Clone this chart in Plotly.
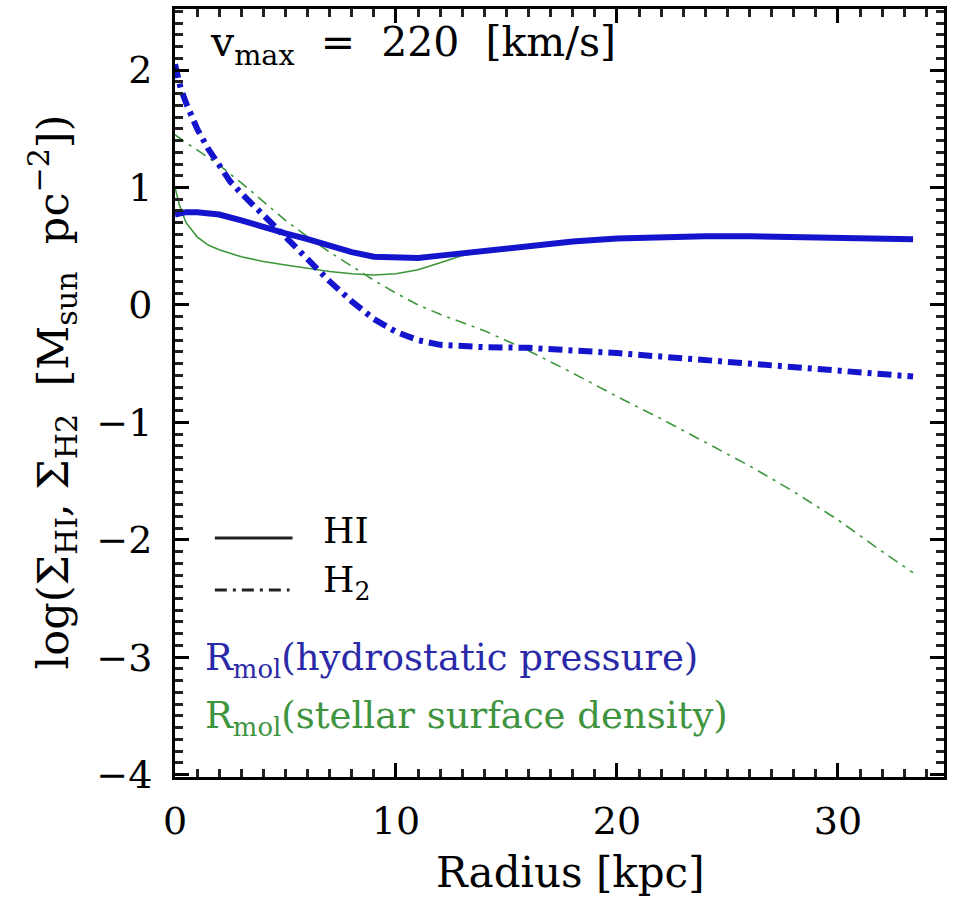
import plotly.graph_objects as go

# ---------------- data ----------------
r_hi_hydro = [0, 0.5, 1, 2, 3, 4, 5, 6, 7, 8, 9, 10, 11, 12, 13, 14, 16, 18, 20, 22, 24, 26, 28, 30, 32, 33.4]
hi_hydro = [0.77, 0.79, 0.79, 0.77, 0.72, 0.66, 0.61, 0.56, 0.50, 0.45, 0.41, 0.40, 0.40, 0.42, 0.44, 0.47,
            0.51, 0.54, 0.565, 0.58, 0.585, 0.585, 0.58, 0.575, 0.565, 0.56]

r_h2_hydro = [0, 0.25, 0.5, 1, 1.5, 2, 2.5, 3, 4, 5, 6, 7, 8, 9, 10, 11, 12, 13, 14, 16, 18, 20, 22, 24,
              26, 28, 30, 32, 33.4]
h2_hydro = [2.05, 1.85, 1.72, 1.50, 1.33, 1.18, 1.05, 0.95, 0.77, 0.58, 0.39, 0.20, 0.03, -0.12, -0.23,
            -0.30, -0.34, -0.355, -0.36, -0.365, -0.385, -0.41, -0.44, -0.47, -0.50, -0.53, -0.56, -0.59, -0.61]

r_hi_star = [0, 0.2, 0.5, 1, 1.5, 2, 3, 4, 5, 6, 7, 8, 9, 10, 11, 12, 13, 14, 16, 18, 20, 22, 24, 26, 28,
             30, 32, 33.4]
hi_star = [1.00, 0.85, 0.70, 0.58, 0.51, 0.47, 0.41, 0.37, 0.34, 0.31, 0.285, 0.265, 0.255, 0.265, 0.30,
           0.36, 0.42, 0.455, 0.50, 0.54, 0.565, 0.58, 0.585, 0.585, 0.58, 0.575, 0.565, 0.56]

r_h2_star = [0, 0.5, 1, 2, 3, 4, 5, 6, 7, 8, 9, 10, 11, 12, 13, 14, 16, 18, 20, 22, 24, 26, 28, 30, 32, 33.4]
h2_star = [1.45, 1.38, 1.32, 1.19, 1.04, 0.88, 0.72, 0.58, 0.45, 0.33, 0.21, 0.10, 0.00, -0.08, -0.15,
           -0.22, -0.39, -0.58, -0.78, -0.97, -1.17, -1.37, -1.59, -1.83, -2.10, -2.28]

x_range = [0, 34.8]
y_range = [-4.02, 2.52]
x_tick_step, x_minor_step = 10, 1
y_tick_step, y_minor_step = 1, 0.1

BLUE = "#1414cc"
GREEN = "#3c963c"
FONT = "DejaVu Serif"
NB = "\u00a0"
PLOT_W, PLOT_H = 772, 768

fig = go.Figure()
fig.add_trace(go.Scatter(x=r_h2_star, y=h2_star, mode="lines",
                         line=dict(color=GREEN, width=1.6, dash="11px,6px,3px,6px"), showlegend=False))
fig.add_trace(go.Scatter(x=r_hi_star, y=hi_star, mode="lines",
                         line=dict(color=GREEN, width=1.6), showlegend=False))
fig.add_trace(go.Scatter(x=r_h2_hydro, y=h2_hydro, mode="lines",
                         line=dict(color=BLUE, width=6, dash="14px,6px,4px,6px"), showlegend=False))
fig.add_trace(go.Scatter(x=r_hi_hydro, y=hi_hydro, mode="lines",
                         line=dict(color=BLUE, width=6), showlegend=False))

minor_x = dict(dtick=x_minor_step, tick0=0, ticks="inside", ticklen=8, tickwidth=2.5, tickcolor="#222222")
minor_y = dict(dtick=y_minor_step, tick0=0, ticks="inside", ticklen=8, tickwidth=2.5, tickcolor="#222222")

fig.update_layout(
    xaxis=dict(range=x_range, dtick=x_tick_step, tick0=0, ticklen=14, tickwidth=2.5, tickcolor="black",
               ticks="inside", mirror="allticks", showline=True, linecolor="black", linewidth=3,
               showgrid=False, zeroline=False, ticklabelstandoff=8,
               tickfont=dict(family=FONT, size=38, color="black"), minor=minor_x),
    yaxis=dict(range=y_range, dtick=y_tick_step, tick0=0, ticklen=14, tickwidth=2.5, tickcolor="black",
               ticks="inside", mirror="allticks", showline=True, linecolor="black", linewidth=3,
               showgrid=False, zeroline=False, ticklabelstandoff=12,
               tickfont=dict(family=FONT, size=38, color="black"), minor=minor_y),
)

# legend-like key (black line styles)
fig.add_shape(type="line", xref="paper", yref="paper", x0=(215 - 175) / PLOT_W, x1=(293 - 175) / PLOT_W,
              y0=(777 - 538) / PLOT_H, y1=(777 - 538) / PLOT_H, line=dict(color="#222222", width=3))
fig.add_shape(type="line", xref="paper", yref="paper", x0=(215 - 175) / PLOT_W, x1=(290 - 175) / PLOT_W,
              y0=(777 - 590) / PLOT_H, y1=(777 - 590) / PLOT_H,
              line=dict(color="#222222", width=3, dash="12px,6px,3px,6px"))

ann_font = dict(family=FONT, size=36, color="black")
annotations = [
    dict(text=f"v<sub>max</sub>{NB}{NB}={NB}{NB}220{NB}{NB}[km/s]", x=(208 - 175) / PLOT_W,
         y=(777 - 45) / PLOT_H, xanchor="left", yanchor="middle", font=dict(family=FONT, size=41, color="black")),
    dict(text="HI", x=(322 - 175) / PLOT_W, y=(777 - 530) / PLOT_H, xanchor="left", yanchor="middle",
         font=ann_font),
    dict(text="H<sub>2</sub>", x=(322 - 175) / PLOT_W, y=(777 - 582) / PLOT_H, xanchor="left",
         yanchor="middle", font=ann_font),
    dict(text="R<sub>mol</sub>(hydrostatic pressure)", x=(203 - 175) / PLOT_W, y=(777 - 660) / PLOT_H,
         xanchor="left", yanchor="middle", font=dict(family=FONT, size=37, color="#2a2aa8")),
    dict(text="R<sub>mol</sub>(stellar surface density)", x=(203 - 175) / PLOT_W, y=(777 - 718) / PLOT_H,
         xanchor="left", yanchor="middle", font=dict(family=FONT, size=37, color="#3f943f")),
    dict(text="Radius [kpc]", x=(572 - 175) / PLOT_W, y=(777 - 872) / PLOT_H, xanchor="center",
         yanchor="middle", font=dict(family=FONT, size=42, color="black")),
    dict(text=f"log(Σ<sub>HI</sub>,{NB}Σ<sub>H2</sub>{NB}{NB}[M<sub>sun</sub>{NB}{NB}pc<sup>−2</sup>])",
         x=(52 - 175) / PLOT_W, y=(777 - 392) / PLOT_H, xanchor="center", yanchor="middle", textangle=-90,
         font=dict(family=FONT, size=43, color="black")),
]
for a in annotations:
    fig.add_annotation(xref="paper", yref="paper", showarrow=False, **a)

fig.update_layout(width=953, height=898, margin=dict(l=175, r=6, t=9, b=121),
                  paper_bgcolor="white", plot_bgcolor="white", showlegend=False)

fig.write_html("out.html")
